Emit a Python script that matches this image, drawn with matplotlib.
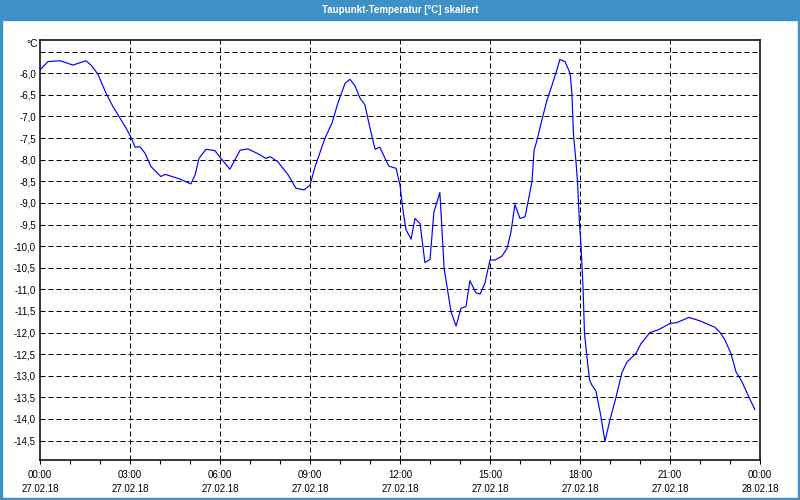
import numpy as np
import matplotlib
matplotlib.use('Agg')
import matplotlib.pyplot as plt
from matplotlib.patches import Rectangle
from matplotlib.ticker import MultipleLocator

# hours since 27.02.18 00:00 and dew point in degC
hours = [0.00, 0.27, 0.67, 1.10, 1.53, 1.70, 1.93, 2.20, 2.43, 2.67, 2.87, 3.03,
         3.17, 3.33, 3.50, 3.70, 4.03, 4.17, 4.50, 4.67, 5.03, 5.17, 5.30, 5.53,
         5.83, 6.03, 6.33, 6.67, 6.93, 7.23, 7.53, 7.67, 7.93, 8.27, 8.53, 8.80,
         9.00, 9.17, 9.50, 9.73, 9.93, 10.17, 10.33, 10.50, 10.67, 10.83, 11.00,
         11.17, 11.33, 11.50, 11.63, 11.87, 12.00, 12.10, 12.20, 12.37, 12.50,
         12.67, 12.83, 13.00, 13.13, 13.33, 13.47, 13.70, 13.87, 14.03, 14.20,
         14.33, 14.53, 14.67, 14.83, 15.00, 15.17, 15.40, 15.57, 15.70, 15.83,
         16.00, 16.17, 16.27, 16.40, 16.47, 16.57, 16.73, 16.90, 17.07, 17.23,
         17.33, 17.50, 17.67, 17.73, 17.78, 17.87, 17.92, 17.98, 18.03, 18.10,
         18.15, 18.23, 18.32, 18.40, 18.53, 18.70, 18.83, 19.00, 19.20, 19.40,
         19.57, 19.87, 20.03, 20.33, 20.60, 21.00, 21.23, 21.63, 22.00, 22.50,
         22.67, 22.83, 23.03, 23.20, 23.40, 23.60, 23.83]
dewpoint = [-5.92, -5.73, -5.71, -5.81, -5.71, -5.81, -6.02, -6.46, -6.77, -7.04,
            -7.27, -7.48, -7.71, -7.70, -7.85, -8.16, -8.39, -8.34, -8.41, -8.45,
            -8.56, -8.35, -7.97, -7.76, -7.79, -7.97, -8.22, -7.78, -7.75, -7.85,
            -7.97, -7.93, -8.05, -8.35, -8.66, -8.70, -8.59, -8.16, -7.50, -7.16,
            -6.69, -6.23, -6.14, -6.29, -6.58, -6.73, -7.27, -7.76, -7.71, -7.97,
            -8.15, -8.20, -8.59, -9.17, -9.62, -9.84, -9.36, -9.48, -10.38, -10.31,
            -9.21, -8.76, -10.51, -11.52, -11.85, -11.44, -11.40, -10.80, -11.08,
            -11.11, -10.86, -10.32, -10.32, -10.23, -10.05, -9.67, -9.04, -9.36,
            -9.32, -8.97, -8.50, -7.78, -7.54, -7.08, -6.62, -6.27, -5.92, -5.68,
            -5.73, -6.00, -6.46, -7.39, -8.08, -8.55, -9.44, -9.94, -10.94, -12.02,
            -12.56, -13.10, -13.22, -13.35, -13.95, -14.52, -14.02, -13.50, -12.92,
            -12.68, -12.48, -12.26, -12.00, -11.94, -11.79, -11.77, -11.65, -11.73,
            -11.88, -12.00, -12.17, -12.48, -12.91, -13.14, -13.45, -13.78]

xtick_hours = [0, 3, 6, 9, 12, 15, 18, 21, 24]
xtick_labels = ['00:00\n27.02.18', '03:00\n27.02.18', '06:00\n27.02.18',
                '09:00\n27.02.18', '12:00\n27.02.18', '15:00\n27.02.18',
                '18:00\n27.02.18', '21:00\n27.02.18', '00:00\n28.02.18']
ytick_values = np.arange(-6.0, -14.51, -0.5)

TITLE = 'Taupunkt-Temperatur [°C] skaliert'
BLUE_BAR = '#3d91c7'

plt.rcParams['font.family'] = ['Liberation Sans', 'DejaVu Sans']

fig = plt.figure(figsize=(8, 5), dpi=100, facecolor='white')
ax = fig.add_axes([40 / 800, 40 / 500, 720 / 800, 420 / 500])

# window frame: title bar and thin borders
fig.patches.append(Rectangle((0, 480 / 500), 1, 20 / 500, transform=fig.transFigure,
                             color=BLUE_BAR, zorder=0))
fig.patches.append(Rectangle((0, 0), 2 / 800, 1, transform=fig.transFigure, color=BLUE_BAR))
fig.patches.append(Rectangle((798 / 800, 0), 2 / 800, 1, transform=fig.transFigure, color=BLUE_BAR))
fig.patches.append(Rectangle((0, 0), 1, 2 / 500, transform=fig.transFigure, color=BLUE_BAR))
fig.text(0.5, 1 - 10 / 500, TITLE, color='white', fontsize=7, fontweight='bold',
         ha='center', va='center')

ax.plot(hours, dewpoint, color='#0000ff', lw=0.85, zorder=3)

ax.set_xlim(0, 24)
ax.set_ylim(-14.95, -5.23)

# grid lines (dashed black)
for v in np.arange(-5.5, -14.51, -0.5):
    ax.axhline(v, color='black', lw=0.72, dashes=(5, 3), zorder=1)
for h in xtick_hours[1:-1]:
    ax.axvline(h, color='black', lw=0.72, dashes=(5, 3), zorder=1)

ax.set_xticks(xtick_hours)
ax.set_xticklabels(xtick_labels, fontsize=7, linespacing=1.5)
ax.xaxis.set_minor_locator(MultipleLocator(1))
ax.tick_params(axis='x', which='both', direction='out', length=3, width=0.8, pad=4)

ax.set_yticks(ytick_values)
ax.set_yticklabels([f'{v:.1f}'.replace('.', ',') for v in ytick_values], fontsize=7)
ax.tick_params(axis='y', length=0, pad=3)

for s in ax.spines.values():
    s.set_linewidth(1.1)
    s.set_color('black')

fig.text(38 / 800, 1 - 44 / 500, '°C', fontsize=7.5, ha='right', va='center')

fig.savefig('out.png', dpi=100, facecolor=fig.get_facecolor())
